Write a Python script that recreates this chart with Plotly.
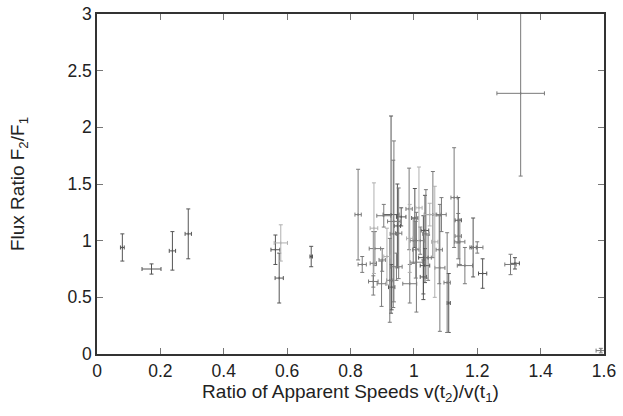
import plotly.graph_objects as go

# Data (speed ratio, flux ratio, errors, grey shade group)
x_vals = [0.080, 0.172, 0.238, 0.288, 0.563, 0.580, 0.575, 0.676,
          0.824, 0.837, 0.874, 0.877, 0.872, 0.872, 0.898, 0.900, 0.924, 0.928,
          0.937, 0.935, 0.948, 0.952, 0.945, 0.930, 0.985, 0.987, 0.998, 1.003,
          0.987, 1.006, 1.008, 1.016, 1.035, 1.038, 1.030, 1.045, 1.035, 1.030,
          1.060, 1.066, 1.080, 1.082, 1.087, 1.105, 1.110, 1.127, 1.140, 1.140,
          1.145, 1.161, 1.187, 1.200, 1.217, 1.305, 1.319, 1.337, 1.590,
          0.905, 0.960, 1.020, 1.050, 0.915]
y_vals = [0.94, 0.75, 0.91, 1.06, 0.92, 0.98, 0.67, 0.86,
          1.23, 0.79, 1.11, 0.93, 0.80, 0.64, 0.62, 0.83, 0.65, 1.23,
          1.17, 1.06, 1.13, 1.065, 0.77, 0.59, 1.28, 1.02, 1.00, 1.20,
          0.62, 0.92, 0.81, 1.29, 1.09, 1.06, 0.85, 0.85, 0.78, 0.68,
          1.23, 0.99, 0.92, 0.76, 1.23, 0.63, 0.45, 1.38, 1.18, 1.04,
          0.99, 0.78, 0.94, 0.94, 0.71, 0.79, 0.80, 2.30, 0.03,
          1.22, 1.21, 1.00, 1.23, 0.86]
x_err = [0.006, 0.030, 0.010, 0.010, 0.014, 0.021, 0.013, 0.004,
         0.010, 0.013, 0.012, 0.018, 0.010, 0.015, 0.014, 0.010, 0.010, 0.025,
         0.020, 0.010, 0.010, 0.010, 0.018, 0.010, 0.010, 0.010, 0.010, 0.010,
         0.022, 0.010, 0.020, 0.010, 0.012, 0.010, 0.015, 0.010, 0.015, 0.010,
         0.026, 0.010, 0.010, 0.016, 0.015, 0.010, 0.005, 0.010, 0.010, 0.010,
         0.016, 0.024, 0.010, 0.018, 0.013, 0.018, 0.014, 0.075, 0.015,
         0.022, 0.015, 0.012, 0.018, 0.010]
y_err = [0.12, 0.045, 0.17, 0.22, 0.13, 0.16, 0.22, 0.09,
         0.40, 0.07, 0.40, 0.15, 0.28, 0.05, 0.20, 0.10, 0.37, 0.87,
         0.71, 0.65, 0.37, 0.40, 0.12, 0.20, 0.36, 0.30, 0.20, 0.26,
         0.17, 0.25, 0.44, 0.36, 0.31, 0.39, 0.37, 0.20, 0.15, 0.15,
         0.38, 0.49, 0.30, 0.56, 0.15, 0.44, 0.26, 0.44, 0.20, 0.20,
         0.20, 0.16, 0.26, 0.05, 0.13, 0.09, 0.05, 0.73, 0.02,
         0.10, 0.08, 0.12, 0.10, 0.25]
shade = [0, 0, 0, 0, 0, 2, 0, 0,
         1, 1, 2, 1, 1, 1, 1, 1, 1, 0,
         1, 1, 0, 1, 1, 0, 1, 2, 1, 0,
         1, 1, 1, 2, 0, 1, 0, 1, 0, 0,
         1, 2, 1, 1, 1, 1, 0, 1, 0, 1,
         1, 1, 0, 1, 0, 1, 0, 1, 1,
         1, 0, 1, 2, 2]

x_ticks = [0, 0.2, 0.4, 0.6, 0.8, 1.0, 1.2, 1.4, 1.6]
x_tick_text = ["0", "0.2", "0.4", "0.6", "0.8", "1", "1.2", "1.4", "1.6"]
y_ticks = [0, 0.5, 1, 1.5, 2, 2.5, 3]
y_tick_text = ["0", "0.5", "1", "1.5", "2", "2.5", "3"]

shade_colors = ["#555555", "#7a7a7a", "#b0b0b0"]

fig = go.Figure()
for s, col in enumerate(shade_colors):
    idx = [i for i, v in enumerate(shade) if v == s]
    fig.add_trace(go.Scatter(
        x=[x_vals[i] for i in idx],
        y=[y_vals[i] for i in idx],
        mode="markers",
        marker=dict(size=2, color=col, symbol="line-ns",
                    line=dict(width=1, color=col)),
        error_x=dict(type="data", array=[x_err[i] for i in idx],
                     color=col, thickness=1, width=2),
        error_y=dict(type="data", array=[y_err[i] for i in idx],
                     color=col, thickness=1, width=2),
        showlegend=False,
        hoverinfo="x+y",
    ))

fam = "Liberation Sans, Arial, sans-serif"
tick_font = dict(family=fam, size=17.5, color="#222")
title_font = dict(family=fam, size=19, color="#222")

fig.update_layout(
    width=623, height=416,
    margin=dict(l=97, r=19, t=14, b=62, autoexpand=False),
    paper_bgcolor="white", plot_bgcolor="white",
    font=tick_font,
    xaxis=dict(
        range=[0, 1.6], tickvals=x_ticks, ticktext=x_tick_text,
        ticks="inside", ticklen=6, tickcolor="#777", tickwidth=1,
        showline=True, linecolor="#333", linewidth=1.5, mirror="ticks",
        showgrid=False, zeroline=False, automargin=False,
        title=dict(text="Ratio of Apparent Speeds v(t<sub>2</sub>)/v(t<sub>1</sub>)",
                   font=title_font, standoff=0),
        tickfont=tick_font,
    ),
    yaxis=dict(
        range=[0, 3], tickvals=y_ticks, ticktext=y_tick_text,
        ticks="inside", ticklen=6, tickcolor="#777", tickwidth=1,
        showline=True, linecolor="#333", linewidth=1.5, mirror="ticks",
        showgrid=False, zeroline=False, automargin=False,
        title=dict(text="Flux Ratio F<sub>2</sub>/F<sub>1</sub>",
                   font=title_font, standoff=38),
        tickfont=tick_font,
    ),
)

fig.write_html("out.html", config={"displayModeBar": False},
               post_script="document.body.style.margin='0';")
